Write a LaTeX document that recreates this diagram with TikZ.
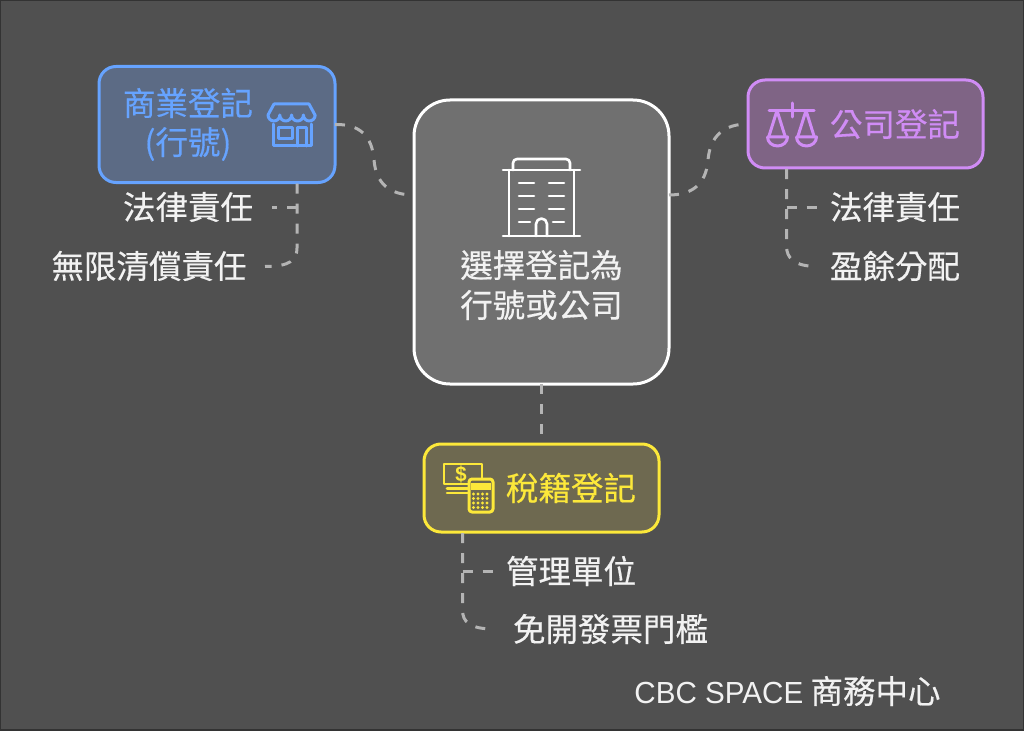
\documentclass[tikz,border=0pt]{standalone}
\usepackage{fontspec}
\setmainfont{Noto Sans CJK TC}[RawFeature={embolden=0.4}]
\newfontfamily\latf{Liberation Sans}[FakeStretch=0.97]
\definecolor{bgc}{HTML}{505050}
\definecolor{framec}{HTML}{333333}
\definecolor{conc}{HTML}{B4B4B4}
\definecolor{blu}{HTML}{66A3FF}
\definecolor{blufill}{HTML}{5C6B85}
\definecolor{pur}{HTML}{D08CF5}
\definecolor{purfill}{HTML}{7F6485}
\definecolor{yel}{HTML}{FCE83A}
\definecolor{yelfill}{HTML}{6E6950}
\definecolor{cenfill}{HTML}{707070}
\definecolor{txt}{HTML}{F2F2F2}
\tikzset{
  box/.style={draw,line width=3pt,minimum width=#1,inner sep=0pt,outer sep=0pt},
  lab/.style={font=\fontsize{32.5}{33}\selectfont,text=txt,inner sep=0pt,anchor=center},
  con/.style={conc,line width=3pt,dash pattern=on 10pt off 10pt},
  ico/.style={line width=3pt,line cap=round,line join=round}
}
\begin{document}
\begin{tikzpicture}[x=1pt,y=-1pt]
\useasboundingbox (0,0) rectangle (1024,730);
\fill[bgc] (0,0) rectangle (1024,730);
\draw[framec,line width=2pt] (0,0) rectangle (1024,730);
% boxes
\node[box=236pt,minimum height=116pt,rounded corners=17pt,draw=blu,fill=blufill] (biz) at (217,124.5) {};
\node[box=235pt,minimum height=88pt,rounded corners=17pt,draw=pur,fill=purfill] (co) at (865.5,124) {};
\node[box=255pt,minimum height=284pt,rounded corners=36pt,draw=white,fill=cenfill] (cen) at (541.5,242) {};
\node[box=235pt,minimum height=88pt,rounded corners=17pt,draw=yel,fill=yelfill] (tax) at (541.5,488) {};
% anchors for connector ends
\coordinate (cw) at (cen.west |- 0,195);
\coordinate (ce) at (cen.east |- 0,195);
\coordinate (bb) at (297,183.5);
\coordinate (cb) at (786.5,169);
\coordinate (tb) at (462.5,533);
\coordinate (l1) at (272,207);
\coordinate (l2) at (265,266.5);
\coordinate (r1) at (818,207);
\coordinate (r2) at (818,266.5);
\coordinate (t1) at (494,571);
\coordinate (t2) at (494,629);
% texts
\node[lab,text=blu] (t-biz1) at (188,103) {商業登記};
\node[lab,text=blu] (t-biz2) at (188,144) {(行號)};
\node[lab,text=pur] (t-co) at (895,124) {公司登記};
\node[lab,text=yel] (t-tax) at (571,488) {稅籍登記};
\node[lab] (t-cen1) at (541.5,265) {選擇登記為};
\node[lab] (t-cen2) at (541.5,305) {行號或公司};
\node[lab] (n1) at (188,207) {法律責任};
\node[lab] (n2) at (149,266) {無限清償責任};
\node[lab] (n3) at (895,207) {法律責任};
\node[lab] (n4) at (895,266) {盈餘分配};
\node[lab] (n5) at (571,571) {管理單位};
\node[lab] (n6) at (610.5,629) {免開發票門檻};
\node[lab] (n7) at (787.5,691) {{\latf\fontsize{30.5}{30}\selectfont CBC SPACE} 商務中心};
% connectors
\draw[con] (biz.east) .. controls (360,124) and (372,136) .. (374,160) .. controls (376,184) and (390,195) .. (cw);
\draw[con] (ce) .. controls (690,195) and (706,186) .. (708,160) .. controls (710,136) and (724,124) .. (co.west);
\draw[con] (cen.south) -- (tax.north);
\draw[con] (bb) -- (297,248) .. controls (297,260) and (290,266.5) .. (l2);
\draw[con] (297,207) -- (l1);
\draw[con] (cb) -- (786.5,246) .. controls (786.5,258) and (794,266.5) .. (r2);
\draw[con] (786.5,207) -- (r1);
\draw[con] (tb) -- (462.5,610) .. controls (462.5,622) and (470,629) .. (t2);
\draw[con] (462.5,571) -- (t1);
% building icon
\begin{scope}[ico,draw=white,line width=2.6pt]
\draw (503,170) -- (580,170);
\draw (503,236) -- (580,236);
\draw (509,170) -- (509,236);
\draw (574,170) -- (574,236);
\draw (513,170) -- (513,163) arc (180:270:4) -- (566,159) arc (270:360:4) -- (570,170);
\foreach \y in {183,196,209} {\draw (519,\y) -- (534,\y); \draw (549,\y) -- (564,\y);}
\draw (519,222) -- (530,222); \draw (553,222) -- (564,222);
\draw (536,236) -- (536,224) arc (180:360:5.5) -- (547,236);
\end{scope}
% store icon
\begin{scope}[ico,draw=blu]
\draw (273,124) -- (273,146) -- (311,146) -- (311,124);
\draw (278,128) rectangle (292,139);
\draw (297,146) -- (297,128) -- (306,128) -- (306,146);
\draw (268,115) -- (274,104) -- (309,104) -- (315,115);
\draw (268,115) arc (180:0:5.9 and 6) arc (180:0:5.9 and 6) arc (180:0:5.9 and 6) arc (180:0:5.9 and 6);
\end{scope}
% scales icon
\begin{scope}[ico,draw=pur]
\draw (792,103) -- (792,117);
\draw (769,110.5) -- (814,110.5);
\draw (777,110.5) -- (769,136);
\draw (777,110.5) -- (785,136);
\draw (806,110.5) -- (798,136);
\draw (806,110.5) -- (814,136);
\draw (767.5,137) -- (787.5,137) arc (0:180:10 and 9);
\draw (796.5,137) -- (816.5,137) arc (0:180:10 and 9);
\end{scope}
% money icon
\begin{scope}[ico,draw=yel,line width=2.6pt]
\draw (444,464) rectangle (482,484);
\draw (447,488.5) -- (468,488.5);
\draw (447,493) -- (468,493);
\node[font=\latf\bfseries\fontsize{21}{21}\selectfont,text=yel,inner sep=0pt] (dollar) at (461,474) {\$};
\draw[rounded corners=3pt,fill=yelfill,line width=3pt] (469,479) rectangle (493,512);
\fill[yel] (471,483) rectangle (491,490);
\foreach \x in {473.5,478,482.5,487} \foreach \y in {494,498.5,503,507.5} \fill[yel] (\x,\y) circle (1.7);
\end{scope}
\end{tikzpicture}
\end{document}
